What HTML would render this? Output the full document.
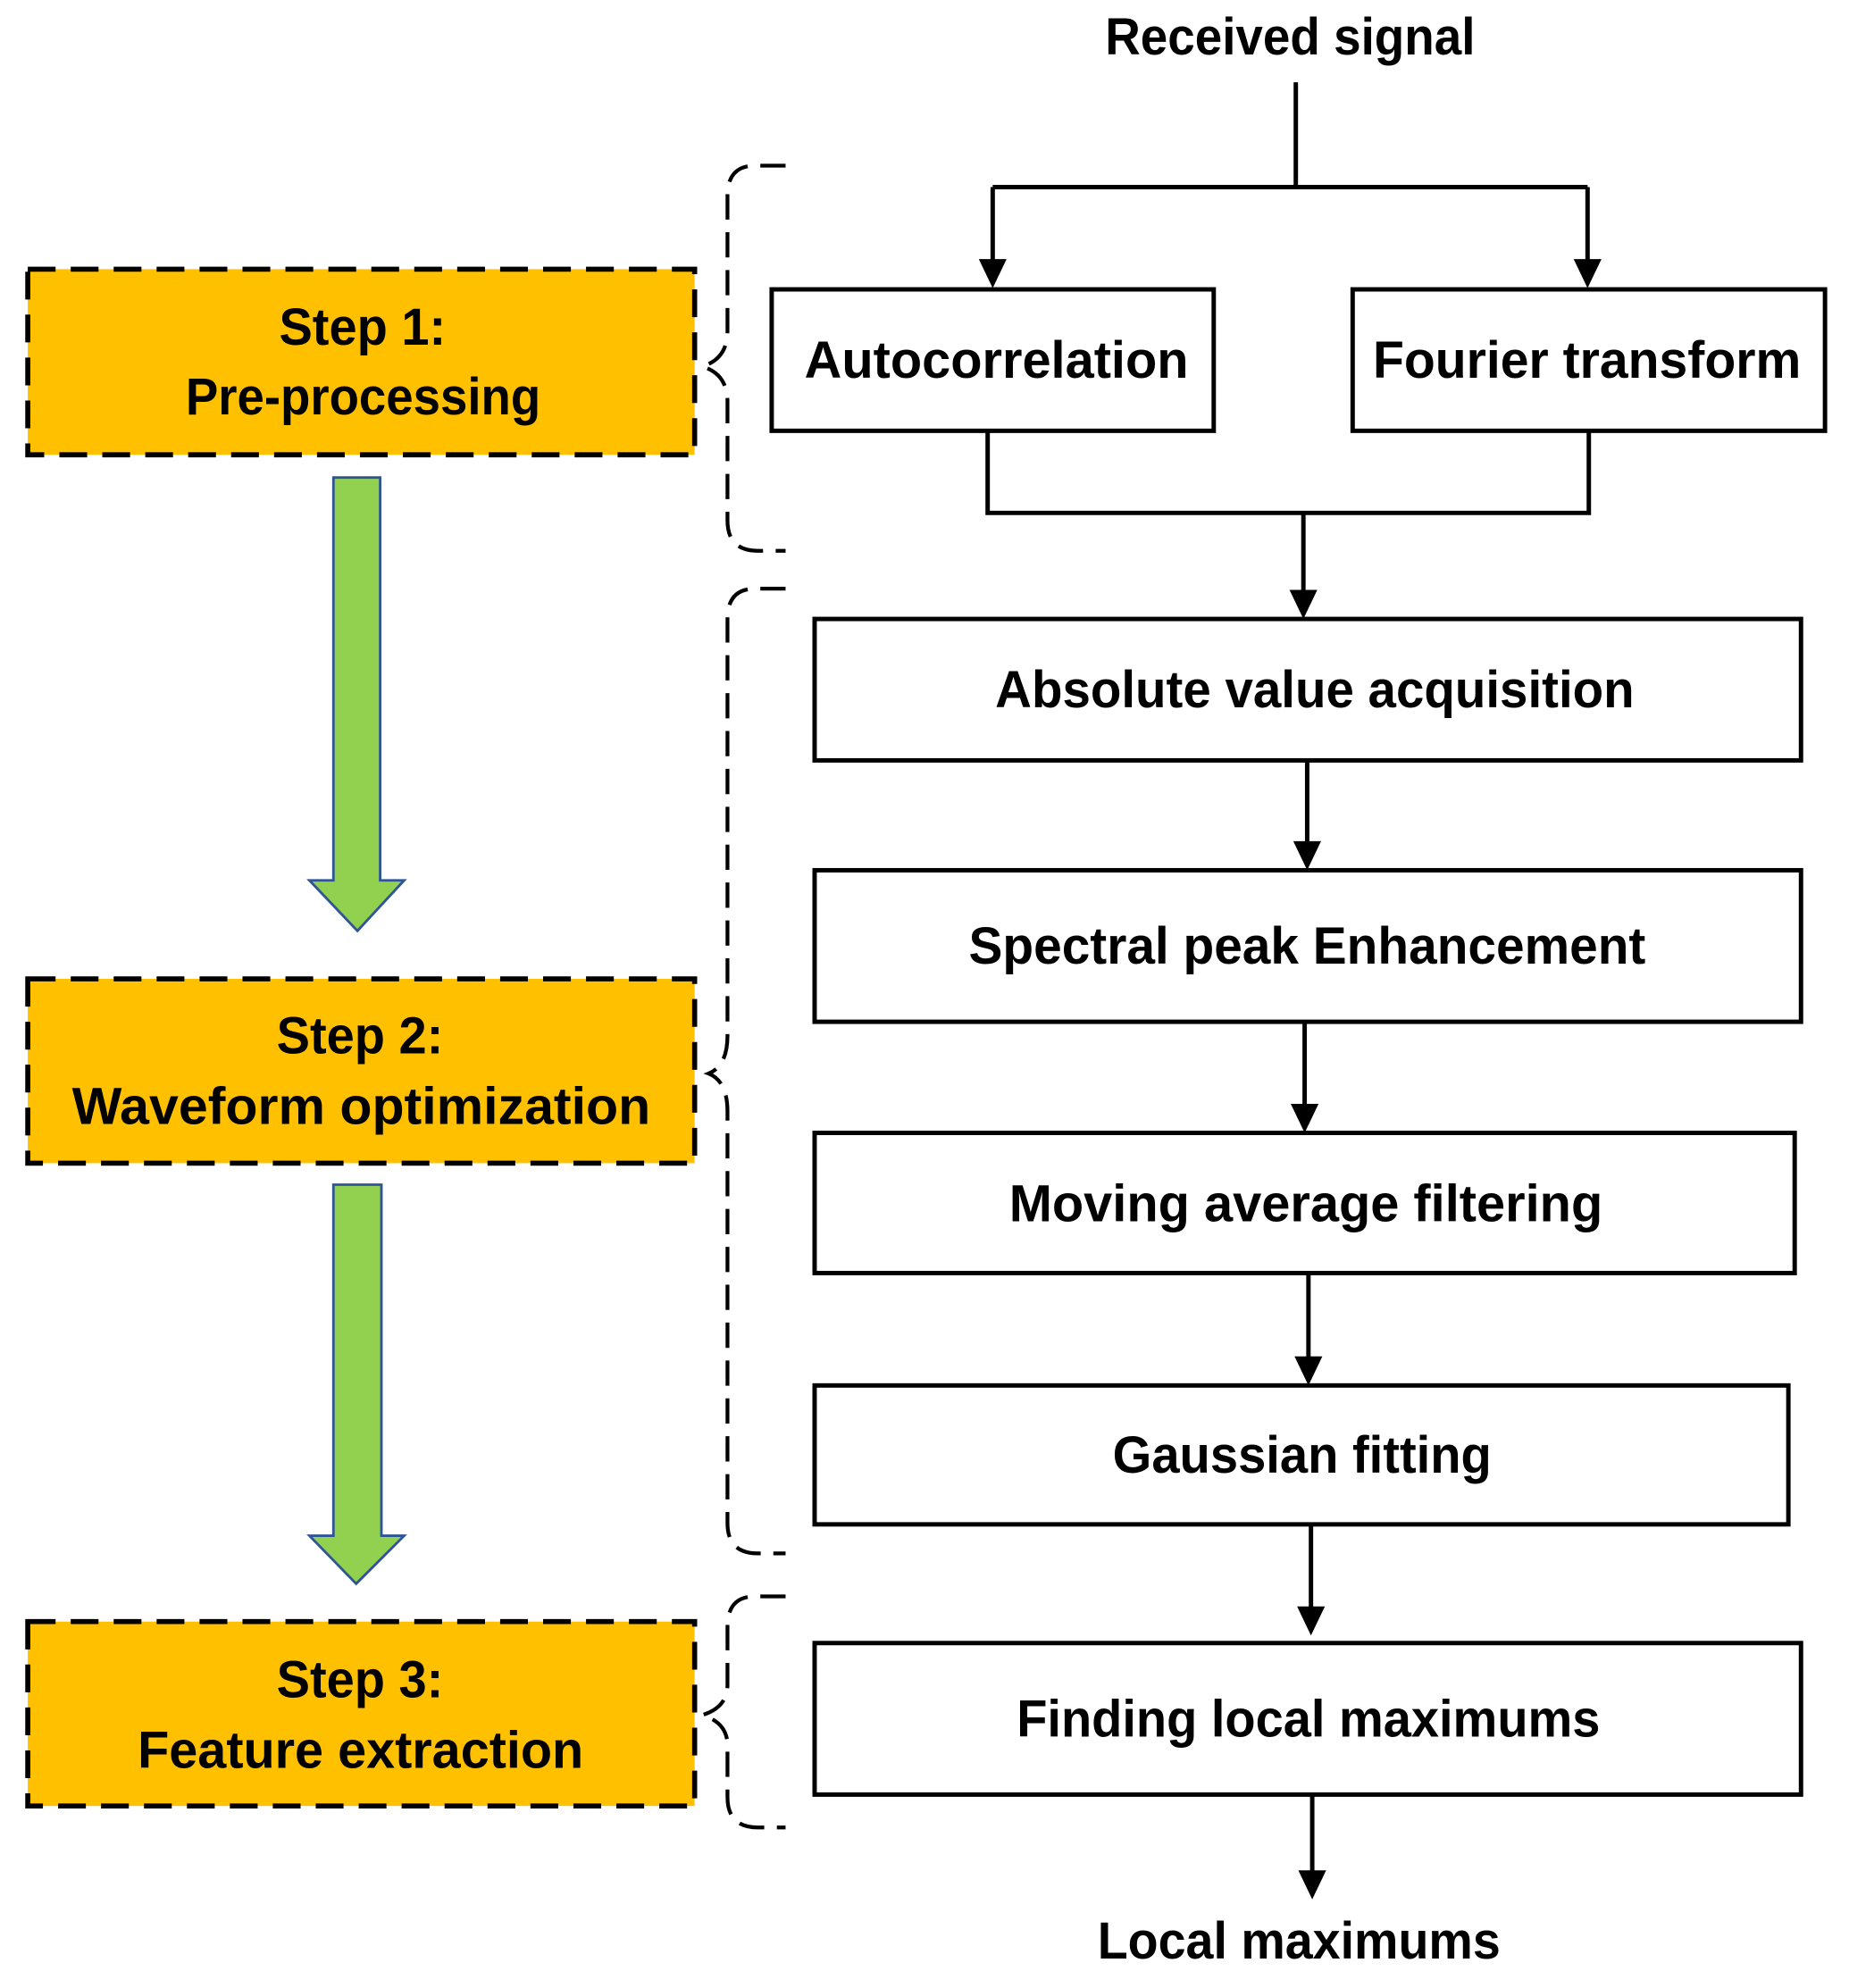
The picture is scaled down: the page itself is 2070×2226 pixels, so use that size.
<!DOCTYPE html>
<html><head><meta charset="utf-8"><style>html,body{margin:0;padding:0;background:#fff}svg{display:block}</style></head>
<body>
<svg width="2070" height="2226" viewBox="0 0 1464 1574" xmlns="http://www.w3.org/2000/svg">
<g font-family="Liberation Sans, sans-serif" font-weight="bold" font-size="41" text-anchor="start" fill="#000">
<g fill="#FFC000" stroke="#000" stroke-width="4" stroke-dasharray="22 12">
<rect x="22" y="213" width="528" height="147"/>
<rect x="22" y="775" width="528" height="146"/>
<rect x="22" y="1284" width="528" height="146"/>
</g>
<text x="221" y="273" textLength="132" lengthAdjust="spacingAndGlyphs">Step 1:</text>
<text x="147" y="328" textLength="281" lengthAdjust="spacingAndGlyphs">Pre-processing</text>
<text x="219" y="834" textLength="132" lengthAdjust="spacingAndGlyphs">Step 2:</text>
<text x="57" y="890" textLength="458" lengthAdjust="spacingAndGlyphs">Waveform optimization</text>
<text x="219" y="1344" textLength="132" lengthAdjust="spacingAndGlyphs">Step 3:</text>
<text x="109" y="1400" textLength="353" lengthAdjust="spacingAndGlyphs">Feature extraction</text>
<g fill="#92D050" stroke="#2F5597" stroke-width="2">
<path d="M264,378 H301 V697 H320 L283,737 L245,697 H264 Z"/>
<path d="M264,938 H302 V1216 H320 L282,1254 L245,1216 H264 Z"/>
</g>
<g fill="none" stroke="#000" stroke-width="3" stroke-dasharray="20 10">
<path d="M622,131 H598 Q576,131 576,155 V262 Q576,284 556,290 Q576,296 576,318 V412 Q576,436 600,436 H622"/>
<path d="M622,466 H598 Q576,466 576,490 V820 Q576,844 561,850 Q576,856 576,880 V1206 Q576,1230 600,1230 H622"/>
<path d="M622,1264 H598 Q576,1264 576,1288 V1334 Q576,1352 556,1358 Q576,1364 576,1382 V1423 Q576,1447 600,1447 H622"/>
</g>
<g fill="#fff" stroke="#000" stroke-width="3.5">
<rect x="611" y="229" width="350" height="112"/>
<rect x="1071" y="229" width="374" height="112"/>
<rect x="645" y="490" width="781" height="112"/>
<rect x="645" y="689" width="781" height="120"/>
<rect x="645" y="897" width="776" height="111"/>
<rect x="645" y="1097" width="771" height="110"/>
<rect x="645" y="1301" width="781" height="120"/>
</g>
<g fill="none" stroke="#000" stroke-width="3.5">
<path d="M1026,65 V148 M786,148 H1257 M786,148 V210 M1257,148 V210"/>
<path d="M782,341 V406 H1258 V341 M1032,406 V470"/>
<path d="M1035,602 V670 M1033,809 V878 M1036,1008 V1077 M1038,1207 V1276 M1039,1421 V1485"/>
</g>
<g fill="#000">
<path d="M775,205 L797,205 L786,228 Z"/>
<path d="M1246,205 L1268,205 L1257,228 Z"/>
<path d="M1021,467 L1043,467 L1032,490 Z"/>
<path d="M1024,666 L1046,666 L1035,689 Z"/>
<path d="M1022,874 L1044,874 L1033,897 Z"/>
<path d="M1025,1074 L1047,1074 L1036,1097 Z"/>
<path d="M1027,1272 L1049,1272 L1038,1295 Z"/>
<path d="M1028,1481 L1050,1481 L1039,1504 Z"/>
</g>
<text x="875" y="43" textLength="293" lengthAdjust="spacingAndGlyphs">Received signal</text>
<text x="637" y="299" textLength="304" lengthAdjust="spacingAndGlyphs">Autocorrelation</text>
<text x="1087" y="299" textLength="339" lengthAdjust="spacingAndGlyphs">Fourier transform</text>
<text x="788" y="560" textLength="506" lengthAdjust="spacingAndGlyphs">Absolute value acquisition</text>
<text x="767" y="763" textLength="536" lengthAdjust="spacingAndGlyphs">Spectral peak Enhancement</text>
<text x="799" y="967" textLength="470" lengthAdjust="spacingAndGlyphs">Moving average filtering</text>
<text x="881" y="1166" textLength="300" lengthAdjust="spacingAndGlyphs">Gaussian fitting</text>
<text x="805" y="1375" textLength="462" lengthAdjust="spacingAndGlyphs">Finding local maximums</text>
<text x="869" y="1551" textLength="319" lengthAdjust="spacingAndGlyphs">Local maximums</text>
</g>
</svg>
</body></html>
